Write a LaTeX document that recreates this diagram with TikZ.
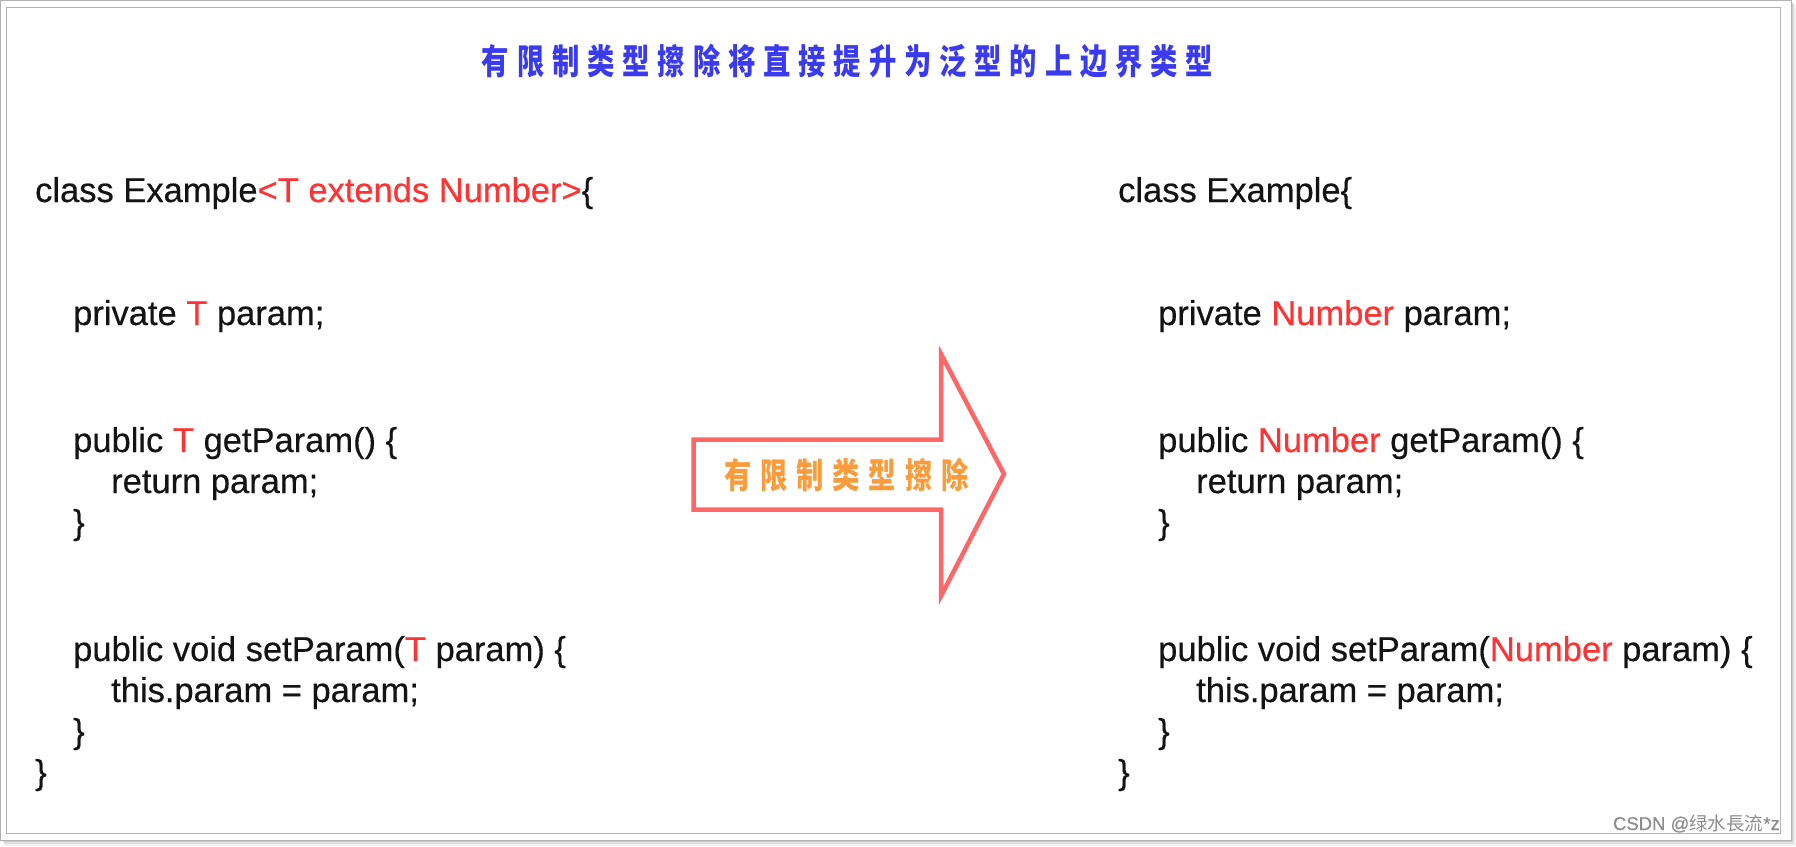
\documentclass[tikz,border=0pt]{standalone}
\usepackage{fontspec}
\setmainfont{Liberation Sans}[FakeBold=0.4]
\newfontfamily\cjk[FakeStretch=0.78]{Noto Sans CJK SC}
\newfontfamily\wmcjk{Noto Sans CJK SC}
\definecolor{codeblack}{RGB}{20,20,20}
\definecolor{codered}{RGB}{255,51,51}
\definecolor{titleblue}{RGB}{58,58,240}
\definecolor{arroworange}{RGB}{250,155,60}
\definecolor{arrowred}{RGB}{255,102,102}
\definecolor{framegray}{RGB}{178,178,178}
\newcommand{\rd}[1]{\textcolor{codered}{#1}}
\newcommand{\tg}{\hspace{7.9pt}}
\newcommand{\ag}{\hspace{8.8pt}}
\begin{document}
\begin{tikzpicture}[x=1pt,y=-1pt,
  code/.style={anchor=base west, inner sep=0pt, font=\fontsize{34.5}{40}\selectfont, text=codeblack},
  cjktext/.style={inner sep=0pt, font=\cjk\bfseries\fontsize{35}{37}\selectfont},
  frame/.style={draw=framegray, line width=1pt}]
\useasboundingbox (0,0) rectangle (1796,846);
\fill[white] (0,0) rectangle (1796,846);
% drop shadow
\fill[black!6] (5,5) rectangle (1796,846);
\fill[black!12] (4,4) rectangle (1794,844);
\fill[black!20] (3,3) rectangle (1792.5,842);
% frames
\draw[frame, fill=white] (0.5,0.5) rectangle (1791,840);
\draw[frame] (6,7) rectangle (1780,833);

% title
\node[cjktext, text=titleblue] (title) at (847.5,61.5)
  {有\tg 限\tg 制\tg 类\tg 型\tg 擦\tg 除\tg 将\tg 直\tg 接\tg 提\tg 升\tg 为\tg 泛\tg 型\tg 的\tg 上\tg 边\tg 界\tg 类\tg 型};

% left code
\node[code] (l1) at (35,202) {class Example\rd{<T extends Number>}\{};
\node[code] (l2) at (73,325) {private \rd{T} param;};
\node[code] (l3) at (73,452) {public \rd{T} getParam() \{};
\node[code] (l4) at (111,493) {return param;};
\node[code] (l5) at (73,534) {\}};
\node[code] (l6) at (73,661) {public void setParam(\rd{T} param) \{};
\node[code] (l7) at (111,702) {this.param = param;};
\node[code] (l8) at (73,743) {\}};
\node[code] (l9) at (35,784) {\}};

% right code
\node[code] (r1) at (1118,202) {class Example\{};
\node[code] (r2) at (1158,325) {private \rd{Number} param;};
\node[code] (r3) at (1158,452) {public \rd{Number} getParam() \{};
\node[code] (r4) at (1196,493) {return param;};
\node[code] (r5) at (1158,534) {\}};
\node[code] (r6) at (1158,661) {public void setParam(\rd{Number} param) \{};
\node[code] (r7) at (1196,702) {this.param = param;};
\node[code] (r8) at (1158,743) {\}};
\node[code] (r9) at (1118,784) {\}};

% big arrow
\draw[arrowred, line width=4.5pt, fill=white, line join=miter]
  (693.5,439.5) -- (941,439.5) -- (941,354) -- (1004,474) -- (941,596) -- (941,509.5) -- (693.5,509.5) -- cycle;
\node[cjktext, text=arroworange] (atext) at (846.5,475)
  {有\ag 限\ag 制\ag 类\ag 型\ag 擦\ag 除};

% watermark
\node[anchor=base east, inner sep=0pt, text=black!45, font=\fontsize{18.5}{20}\selectfont] (wm) at (1780,830)
  {CSDN @{\wmcjk 绿水長流}*z};
\end{tikzpicture}
\end{document}
